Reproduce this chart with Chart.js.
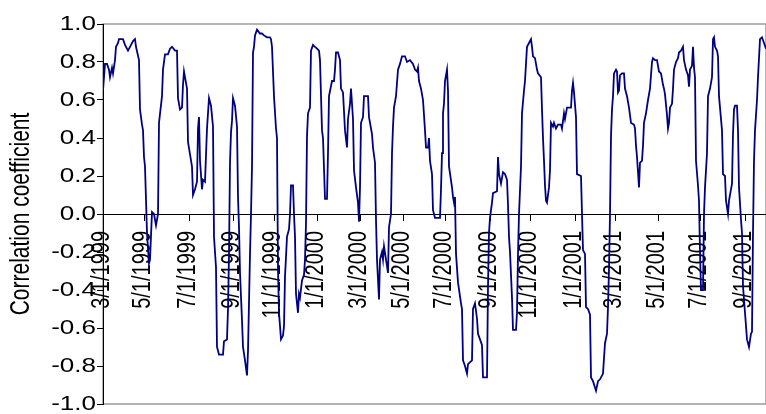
<!DOCTYPE html>
<html>
<head>
<meta charset="utf-8">
<title>Correlation coefficient</title>
<script src="https://cdn.jsdelivr.net/npm/chart.js@4.4.1/dist/chart.umd.min.js"></script>
<style>
  html, body { margin: 0; padding: 0; background: #ffffff; }
  canvas { display: block; }
</style>
</head>
<body>
<canvas id="corrChart" width="766" height="414"></canvas>
<script>
// Trading-day index (0 = 3/1/1999) of each vertex
const dayIndex = [
  0, 2, 4, 6, 7, 9, 10, 12, 13, 15, 16, 20, 22, 25, 27, 30, 32, 33, 36, 37,
  39, 40, 41, 42, 44, 46, 47, 49, 51, 53, 55, 56, 59, 60, 62, 65, 67, 69, 72, 74,
  75, 77, 79, 80, 81, 83, 84, 85, 89, 90, 92, 94, 95, 96, 97, 99, 100, 102, 104, 106,
  108, 110, 111, 113, 114, 116, 120, 121, 124, 125, 126, 127, 128, 129, 130, 132, 134, 135, 136, 137,
  139, 140, 142, 144, 145, 147, 148, 149, 150, 151, 152, 154, 157, 159, 161, 164, 167, 168, 169, 171,
  173, 174, 175, 176, 178, 180, 181, 182, 184, 186, 187, 188, 190, 191, 192, 193, 195, 196, 197, 199,
  201, 202, 203, 204, 205, 207, 208, 210, 212, 214, 216, 217, 219, 220, 222, 224, 225, 226, 229, 231,
  232, 233, 235, 237, 238, 240, 241, 242, 244, 245, 247, 248, 249, 250, 251, 253, 255, 256, 257, 258,
  260, 261, 265, 266, 269, 270, 272, 273, 274, 276, 277, 279, 280, 281, 283, 285, 286, 288, 289, 290,
  291, 293, 295, 297, 299, 302, 304, 307, 310, 312, 314, 315, 316, 318, 320, 322, 323, 325, 326, 327,
  329, 330, 332, 337, 338, 339, 340, 341, 342, 344, 345, 346, 349, 350, 351, 352, 353, 355, 358, 359,
  360, 362, 364, 365, 369, 370, 372, 374, 375, 377, 379, 380, 384, 385, 386, 387, 389, 390, 394, 395,
  396, 398, 400, 402, 404, 405, 406, 407, 409, 410, 413, 414, 415, 416, 418, 419, 421, 422, 424, 426,
  428, 429, 430, 432, 434, 435, 438, 439, 440, 441, 442, 443, 444, 446, 447, 448, 450, 451, 453, 455,
  458, 459, 461, 462, 464, 468, 469, 470, 471, 473, 474, 478, 479, 480, 482, 483, 485, 487, 488, 490,
  493, 495, 497, 500, 502, 504, 505, 506, 507, 508, 509, 510, 511, 513, 514, 515, 516, 517, 519, 521,
  522, 524, 526, 528, 531, 532, 533, 534, 536, 537, 539, 540, 541, 543, 545, 547, 549, 550, 552, 554,
  555, 556, 558, 560, 561, 562, 564, 565, 566, 567, 569, 570, 571, 573, 575, 576, 578, 580, 581, 583,
  585, 586, 587, 589, 590, 591, 592, 593, 595, 596, 597, 598, 600, 601, 602, 604, 605, 607, 609, 610,
  611, 612, 614, 615, 616, 619, 620, 622, 623, 625, 626, 629, 630, 631, 632, 634, 635, 636, 638, 639,
  640, 642, 644, 646, 648, 649, 650, 651, 652, 654, 655, 657, 659, 661, 663
];

// Correlation coefficient at each vertex
const corr = [
  0.65, 0.79, 0.79, 0.76, 0.72, 0.77, 0.74, 0.81, 0.88, 0.90, 0.92, 0.92, 0.89, 0.86, 0.88, 0.91, 0.92, 0.88, 0.81, 0.55,
  0.47, 0.44, 0.30, 0.25, -0.10, -0.26, -0.24, 0.01, 0.00, -0.06, 0.00, 0.48, 0.62, 0.76, 0.84, 0.84, 0.87, 0.88, 0.86, 0.86,
  0.61, 0.55, 0.56, 0.68, 0.75, 0.69, 0.66, 0.38, 0.25, 0.10, 0.13, 0.17, 0.45, 0.51, 0.28, 0.13, 0.18, 0.17, 0.45, 0.61,
  0.57, 0.46, -0.12, -0.28, -0.70, -0.74, -0.74, -0.67, -0.66, -0.50, -0.21, 0.27, 0.43, 0.49, 0.61, 0.57, 0.46, 0.09, -0.07, -0.31,
  -0.56, -0.70, -0.77, -0.85, -0.72, -0.21, 0.00, 0.25, 0.85, 0.88, 0.94, 0.97, 0.95, 0.95, 0.94, 0.93, 0.93, 0.92, 0.88, 0.62,
  0.45, 0.40, -0.29, -0.52, -0.66, -0.64, -0.59, -0.33, -0.12, -0.08, 0.00, 0.15, 0.15, 0.00, -0.12, -0.42, -0.52, -0.42, -0.44, -0.35,
  -0.32, -0.24, -0.05, 0.41, 0.53, 0.56, 0.86, 0.89, 0.88, 0.87, 0.86, 0.81, 0.44, 0.40, 0.08, 0.08, 0.32, 0.62, 0.70, 0.70,
  0.76, 0.85, 0.85, 0.81, 0.66, 0.64, 0.54, 0.44, 0.35, 0.50, 0.58, 0.66, 0.58, 0.50, 0.23, 0.14, 0.06, -0.04, 0.14, 0.48,
  0.51, 0.62, 0.62, 0.51, 0.42, 0.35, 0.27, -0.03, -0.24, -0.45, -0.24, -0.20, -0.24, -0.17, -0.24, -0.31, -0.07, 0.00, 0.32, 0.46,
  0.56, 0.62, 0.76, 0.79, 0.83, 0.83, 0.80, 0.81, 0.79, 0.76, 0.75, 0.77, 0.70, 0.66, 0.60, 0.44, 0.35, 0.35, 0.40, 0.28,
  0.21, 0.02, -0.02, -0.02, 0.13, 0.32, 0.53, 0.58, 0.70, 0.76, 0.65, 0.25, 0.14, 0.09, 0.06, 0.09, -0.21, -0.36, -0.47, -0.50,
  -0.77, -0.80, -0.84, -0.79, -0.77, -0.50, -0.47, -0.55, -0.63, -0.66, -0.69, -0.86, -0.86, -0.38, -0.10, -0.02, 0.06, 0.11, 0.12, 0.30,
  0.21, 0.16, 0.22, 0.21, 0.18, 0.05, -0.12, -0.20, -0.44, -0.61, -0.61, -0.52, -0.21, 0.00, 0.25, 0.53, 0.65, 0.70, 0.88, 0.90,
  0.92, 0.88, 0.83, 0.82, 0.76, 0.74, 0.72, 0.55, 0.40, 0.28, 0.15, 0.07, 0.06, 0.14, 0.23, 0.48, 0.46, 0.48, 0.45, 0.47,
  0.47, 0.45, 0.53, 0.50, 0.56, 0.56, 0.65, 0.69, 0.64, 0.51, 0.21, 0.20, 0.00, -0.19, -0.21, -0.49, -0.50, -0.53, -0.86, -0.88,
  -0.93, -0.88, -0.87, -0.84, -0.68, -0.63, -0.49, -0.29, 0.00, 0.41, 0.55, 0.62, 0.74, 0.76, 0.75, 0.64, 0.65, 0.73, 0.74, 0.74,
  0.66, 0.62, 0.56, 0.48, 0.47, 0.45, 0.36, 0.30, 0.14, 0.27, 0.28, 0.36, 0.48, 0.53, 0.60, 0.66, 0.80, 0.82, 0.81, 0.81,
  0.78, 0.75, 0.74, 0.68, 0.66, 0.63, 0.52, 0.45, 0.48, 0.56, 0.58, 0.66, 0.76, 0.80, 0.82, 0.85, 0.86, 0.88, 0.81, 0.76,
  0.73, 0.67, 0.76, 0.78, 0.88, 0.77, 0.72, 0.28, 0.15, 0.07, -0.20, -0.40, -0.40, 0.00, 0.14, 0.32, 0.62, 0.66, 0.72, 0.92,
  0.93, 0.88, 0.86, 0.83, 0.62, 0.44, 0.21, 0.20, 0.07, 0.00, 0.07, 0.16, 0.42, 0.55, 0.57, 0.57, 0.44, 0.14, -0.03, -0.10,
  -0.38, -0.52, -0.66, -0.70, -0.63, -0.62, -0.10, 0.28, 0.44, 0.60, 0.72, 0.92, 0.93, 0.90, 0.87
];

// Category axis: first trading day of every second month
const tickDays = [0, 41, 86, 130, 171, 214, 257, 300, 342, 387, 427, 472, 512, 555, 597, 642];
const tickLabels = [
  '3/1/1999', '5/1/1999', '7/1/1999', '9/1/1999', '11/1/1999',
  '1/1/2000', '3/1/2000', '5/1/2000', '7/1/2000', '9/1/2000', '11/1/2000',
  '1/1/2001', '3/1/2001', '5/1/2001', '7/1/2001', '9/1/2001'
];
const lastDay = 663;

// Value axis
const yTicks = [-1.0, -0.8, -0.6, -0.4, -0.2, 0.0, 0.2, 0.4, 0.6, 0.8, 1.0];
const yTitle = 'Correlation coefficient';

// The original text is wider than it is tall, so it is drawn stretched
const TEXT_STRETCH = 1.3;
const FONT = '"Liberation Sans", Arial, sans-serif';

const points = dayIndex.map((d, i) => ({ x: d, y: corr[i] }));

// Grey frame round the plot area (top and bottom edges show)
const plotFrame = {
    id: 'plotFrame',
    beforeDraw(chart) {
        const { ctx, chartArea } = chart;
        ctx.save();
        ctx.strokeStyle = '#9a9a9a';
        ctx.lineWidth = 1.5;
        ctx.strokeRect(chartArea.left, chartArea.top, chartArea.right - chartArea.left, chartArea.bottom - chartArea.top);
        ctx.restore();
    }
};

// Axis texts, drawn before the line so the line passes over them
const axisText = {
    id: 'axisText',
    beforeDatasetsDraw(chart) {
        const ctx = chart.ctx;
        const xs = chart.scales.x;
        const ys = chart.scales.y;

        ctx.save();
        ctx.fillStyle = '#000000';

        // value labels
        ctx.font = '20px ' + FONT;
        ctx.textAlign = 'right';
        ctx.textBaseline = 'middle';
        yTicks.forEach(v => {
            const py = ys.getPixelForValue(v);
            ctx.save();
            ctx.translate(ys.right - 7, py);
            ctx.scale(TEXT_STRETCH, 1);
            ctx.fillText(v.toFixed(1), 0, 0);
            ctx.restore();
        });

        // date labels, rotated, hanging below the zero line
        const zeroY = ys.getPixelForValue(0);
        tickDays.forEach((d, i) => {
            const px = xs.getPixelForValue(d);
            ctx.save();
            ctx.translate(px - 1, zeroY + 17);
            ctx.scale(TEXT_STRETCH, 1);
            ctx.rotate(-Math.PI / 2);
            ctx.textAlign = 'right';
            ctx.fillText(tickLabels[i], 0, 0);
            ctx.restore();
        });

        // axis title
        ctx.font = '21px ' + FONT;
        ctx.textAlign = 'center';
        ctx.save();
        ctx.translate(21, (ys.top + ys.bottom) / 2);
        ctx.scale(TEXT_STRETCH, 1);
        ctx.rotate(-Math.PI / 2);
        ctx.fillText(yTitle, 0, 0);
        ctx.restore();

        ctx.restore();
    }
};

new Chart(document.getElementById('corrChart'), {
    type: 'line',
    data: {
        datasets: [{
            label: yTitle,
            data: points,
            borderColor: '#000080',
            borderWidth: 1.8,
            pointRadius: 0,
            tension: 0,
            fill: false
        }]
    },
    options: {
        responsive: false,
        animation: false,
        layout: {
            padding: { top: 24, right: 0, bottom: 10, left: 0 }
        },
        plugins: {
            legend: { display: false },
            tooltip: { enabled: false }
        },
        scales: {
            x: {
                type: 'linear',
                position: { y: 0 },
                min: 0,
                max: lastDay,
                afterBuildTicks: (scale) => {
                    scale.ticks = tickDays.map(v => ({ value: v }));
                },
                afterFit: (scale) => {
                    // the axis sits inside the plot, so it takes no room
                    scale.height = 0;
                    scale.paddingLeft = 0;
                    scale.paddingRight = 0;
                },
                ticks: { display: false },
                grid: {
                    display: true,
                    drawOnChartArea: false,
                    drawTicks: true,
                    tickLength: 6,
                    color: '#000000'
                },
                border: { display: true, color: '#000000', width: 1 }
            },
            y: {
                type: 'linear',
                position: 'left',
                min: -1,
                max: 1,
                afterBuildTicks: (scale) => {
                    scale.ticks = yTicks.map(v => ({ value: v }));
                },
                afterFit: (scale) => {
                    scale.width = 103;
                    scale.paddingTop = 0;
                    scale.paddingBottom = 0;
                },
                ticks: { display: false },
                grid: {
                    display: true,
                    drawOnChartArea: false,
                    drawTicks: true,
                    tickLength: 6,
                    color: '#000000'
                },
                border: { display: true, color: '#000000', width: 1 }
            }
        }
    },
    plugins: [plotFrame, axisText]
});
</script>
</body>
</html>
